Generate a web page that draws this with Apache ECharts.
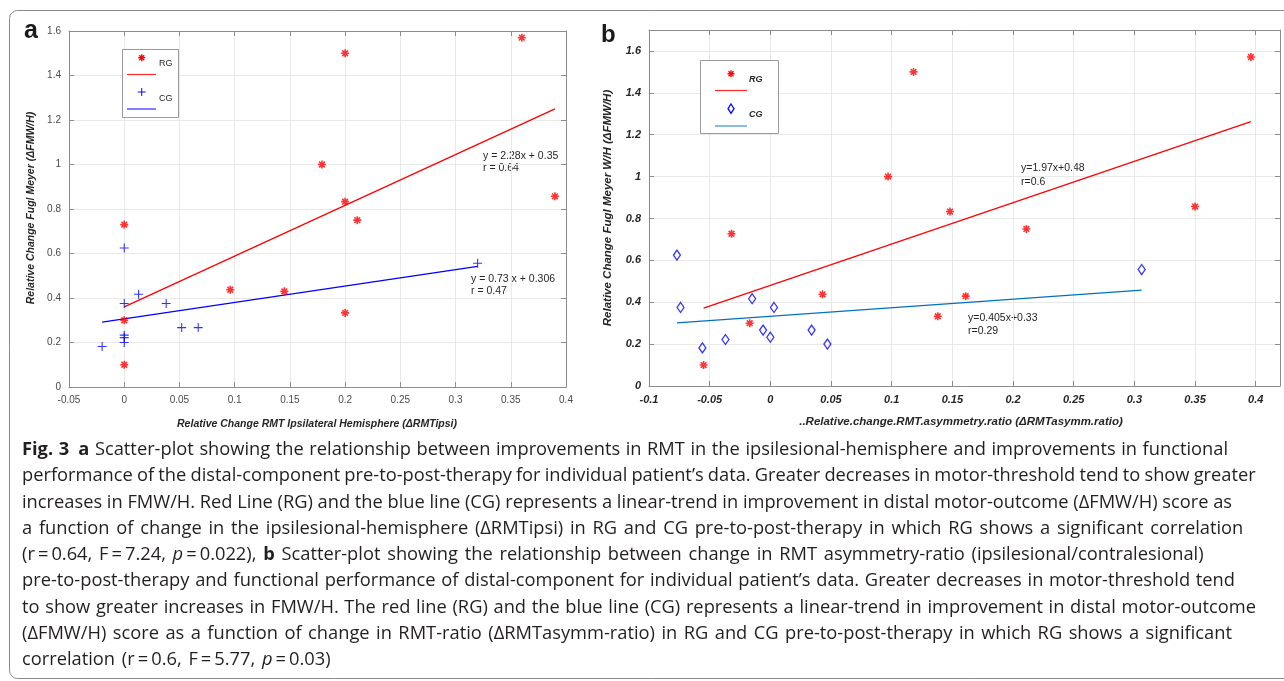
<!DOCTYPE html>
<html><head><meta charset="utf-8">
<script src="https://cdn.jsdelivr.net/npm/echarts@6/dist/echarts.min.js"></script>
<style>html,body{margin:0;padding:0;background:#fff}#c{width:1284px;height:681px}</style>
</head><body><div id="c"></div>
<script>
// ---------- Panel a data ----------
const rgA = [[0,0.73],[0,0.30],[0,0.10],[0.096,0.437],[0.145,0.43],[0.179,1.0],[0.2,1.5],[0.36,1.57],[0.39,0.857],[0.2,0.833],[0.211,0.75],[0.2,0.333]];
const cgA = [[0,0.625],[0,0.375],[0,0.233],[0,0.222],[0,0.2],[-0.02,0.182],[0.013,0.417],[0.038,0.375],[0.052,0.267],[0.067,0.267],[0.32,0.556]];
const fitRgA = [[0,0.36],[0.39,1.25]];
const fitCgA = [[-0.02,0.292],[0.32,0.542]];
const xAxisA = [-0.05, 0.4, 0.05];
const yAxisA = [0, 1.6, 0.2];
const eqA = ['y = 2.28x + 0.35','r = 0.64','y = 0.73 x + 0.306','r = 0.47'];

// ---------- Panel b data ----------
const rgB = [[0.118,1.5],[0.097,1.0],[0.396,1.571],[0.148,0.833],[0.35,0.857],[0.211,0.75],[0.161,0.429],[0.138,0.333],[-0.032,0.727],[0.043,0.438],[-0.017,0.30],[-0.055,0.10]];
const cgB = [[-0.077,0.625],[-0.074,0.375],[-0.056,0.182],[-0.037,0.222],[-0.015,0.417],[-0.006,0.267],[0,0.233],[0.003,0.375],[0.034,0.267],[0.047,0.2],[0.306,0.556]];
const fitRgB = [[-0.055,0.372],[0.396,1.262]];
const fitCgB = [[-0.077,0.301],[0.306,0.458]];
const xAxisB = [-0.1, 0.42, 0.05];
const yAxisB = [0, 1.7, 0.2];
const eqB = ['y=1.97x+0.48','r=0.6','y=0.405x+0.33','r=0.29'];

const legendLabels = ['RG','CG'];
const axisTitlesA = ['Relative Change RMT Ipsilateral Hemisphere (\u0394RMTipsi)','Relative Change Fugl Meyer (\u0394FMW/H)'];
const axisTitlesB = ['..Relative.change.RMT.asymmetry.ratio (\u0394RMTasymm.ratio)','Relative Change Fugl Meyer W/H (\u0394FMW/H)'];

const captionLines = [
 '{b|Fig.} {b|3}\u2002{b|a} Scatter-plot showing the relationship between improvements in RMT in the ipsilesional-hemisphere and improvements in functional',
 'performance of the distal-component pre-to-post-therapy for individual patient\u2019s data. Greater decreases in motor-threshold tend to show greater',
 'increases in FMW/H. Red Line (RG) and the blue line (CG) represents a linear-trend in improvement in distal motor-outcome (\u0394FMW/H) score as',
 'a function of change in the ipsilesional-hemisphere (\u0394RMTipsi) in RG and CG pre-to-post-therapy in which RG shows a significant correlation',
 '(r\u2009=\u20090.64, F\u2009=\u20097.24, {i|p}\u2009=\u20090.022), {b|b} Scatter-plot showing the relationship between change in RMT asymmetry-ratio (ipsilesional/contralesional)',
 'pre-to-post-therapy and functional performance of distal-component for individual patient\u2019s data. Greater decreases in motor-threshold tend',
 'to show greater increases in FMW/H. The red line (RG) and the blue line (CG) represents a linear-trend in improvement in distal motor-outcome',
 '(\u0394FMW/H) score as a function of change in RMT-ratio (\u0394RMTasymm-ratio) in RG and CG pre-to-post-therapy in which RG shows a significant',
 'correlation (r\u2009=\u20090.6, F\u2009=\u20095.77, {i|p}\u2009=\u20090.03)'
];
const captionRightEdges = [1228, 1253, 1232, 1247, 1222, 1235, 1256, 1232, 340];

// ---------- styling ----------
const STAR = 'path://M-1,-5L1,-5L1,5L-1,5Z M-5,-1L5,-1L5,1L-5,1Z M-2.83,-4.25L4.25,2.83L2.83,4.25L-4.25,-2.83Z M-4.25,2.83L2.83,-4.25L4.25,-2.83L-2.83,4.25Z';
const PLUS = 'path://M-0.6,-5L0.6,-5L0.6,5L-0.6,5Z M-5,-0.6L5,-0.6L5,0.6L-5,0.6Z';
const STAR_BARS = [[[-1,-5],[1,-5],[1,5],[-1,5]],[[-5,-1],[5,-1],[5,1],[-5,1]],[[-2.83,-4.25],[4.25,2.83],[2.83,4.25],[-4.25,-2.83]],[[-4.25,2.83],[2.83,-4.25],[4.25,-2.83],[-2.83,4.25]]];
const PLUS_BARS = [[[-0.6,-5],[0.6,-5],[0.6,5],[-0.6,5]],[[-5,-0.6],[5,-0.6],[5,0.6],[-5,0.6]]];
const AX = '#8c8c8c', GRIDC = '#e9e9e9';
const FONT = 'Liberation Sans';

function mainX(grid, r, labelStyle){
  return {type:'value', gridIndex:grid, min:r[0], max:r[1], interval:r[2], position:'bottom',
    axisLine:{show:true, onZero:false, lineStyle:{color:AX}},
    axisTick:{show:true, inside:true, length:5, lineStyle:{color:AX}},
    axisLabel:Object.assign({show:true, margin:8}, labelStyle),
    splitLine:{show:true, lineStyle:{color:GRIDC}}};
}
function mainY(grid, r, labelStyle){
  return {type:'value', gridIndex:grid, min:r[0], max:r[1], interval:r[2], position:'left',
    axisLine:{show:true, onZero:false, lineStyle:{color:AX}},
    axisTick:{show:true, inside:true, length:5, lineStyle:{color:AX}},
    axisLabel:Object.assign({show:true, margin:8}, labelStyle),
    splitLine:{show:true, lineStyle:{color:GRIDC}}};
}
function mirror(grid, r, pos){
  return {type:'value', gridIndex:grid, min:r[0], max:r[1], interval:r[2], position:pos,
    axisLine:{show:true, onZero:false, lineStyle:{color:AX}},
    axisTick:{show:true, inside:true, length:5, lineStyle:{color:AX}},
    axisLabel:{show:false}, splitLine:{show:false}};
}
const labA = {color:'#4a4a4a', fontSize:10, fontFamily:FONT};
const labB = {color:'#262626', fontSize:11, fontFamily:FONT, fontWeight:'bold', fontStyle:'italic', showMaxLabel:false};

const chart = echarts.init(document.getElementById('c'), null, {renderer:'canvas'});

// caption font size fitting
const ctx = document.createElement('canvas').getContext('2d');
const CAPFONT = 'Open Sans';
ctx.font = '16px "' + CAPFONT + '"';
const w2 = ctx.measureText(captionLines[1]).width;
const capSize = Math.round(16 * 1231 / w2 * 1.01 * 10) / 10;
function fontFor(tag){
  const pre = tag === 'b' ? 'bold ' : (tag === 'i' ? 'italic ' : '');
  return pre + capSize + 'px "' + CAPFONT + '"';
}
function wordWidth(word){
  const re = /\{(b|i)\|([^}]*)\}/g; let last = 0, m, w = 0;
  while ((m = re.exec(word))){
    if (m.index > last){ ctx.font = fontFor(''); w += ctx.measureText(word.slice(last, m.index)).width; }
    ctx.font = fontFor(m[1]); w += ctx.measureText(m[2]).width;
    last = re.lastIndex;
  }
  if (last < word.length){ ctx.font = fontFor(''); w += ctx.measureText(word.slice(last)).width; }
  return w;
}
ctx.font = fontFor('');
const spaceW = ctx.measureText(' ').width;

const graphics = [];
function glyph(bars, cx, cy, s, color){
  bars.forEach(function(b){
    graphics.push({type:'polygon', z:6, shape:{points:b.map(function(p){return [cx + p[0]*s, cy + p[1]*s];})}, style:{fill:color}});
  });
}
// outer frame
graphics.push({type:'rect', shape:{x:9.5, y:10.5, width:1300, height:668, r:8}, style:{fill:'none', stroke:'#8a8a8a', lineWidth:1}, z:0});
// panel letters
graphics.push({type:'text', x:24, y:44, style:{text:'a', font:'bold 25px "Liberation Sans"', fill:'#1a1a1a', textVerticalAlign:'bottom'}});
graphics.push({type:'text', x:601, y:47, style:{text:'b', font:'bold 24px "Liberation Sans"', fill:'#1a1a1a', textVerticalAlign:'bottom'}});
// axis titles
const tfA = 'italic bold 10.5px "Liberation Sans"';
graphics.push({type:'text', x:317, y:424, style:{text:axisTitlesA[0], font:tfA, fill:'#262626', textAlign:'center', textVerticalAlign:'middle'}});
graphics.push({type:'text', x:31, y:208, rotation:Math.PI/2, style:{text:axisTitlesA[1], font:tfA, fill:'#262626', textAlign:'center', textVerticalAlign:'middle'}});
const tfB = 'italic bold 11.5px "Liberation Sans"';
graphics.push({type:'text', x:961, y:422, style:{text:axisTitlesB[0], font:tfB, fill:'#262626', textAlign:'center', textVerticalAlign:'middle'}});
graphics.push({type:'text', x:608, y:208, rotation:Math.PI/2, style:{text:axisTitlesB[1], font:tfB, fill:'#262626', textAlign:'center', textVerticalAlign:'middle'}});
// equations
const ef = '10.5px "Liberation Sans"';
[[483,156,eqA[0]],[483,168,eqA[1]],[471,279,eqA[2]],[471,291,eqA[3]],
 [1021,168,eqB[0]],[1021,182,eqB[1]],[968,318,eqB[2]],[968,331,eqB[3]]].forEach(function(e){
  graphics.push({type:'text', x:e[0], y:e[1], style:{text:e[2], font:ef, fill:'#262626', textVerticalAlign:'middle'}});
});
// legend a
graphics.push({type:'rect', shape:{x:122.5, y:49.5, width:56, height:68}, style:{fill:'#fff', stroke:'#9a9a9a', lineWidth:1}, z:5});
glyph(STAR_BARS, 141.7, 57.7, 0.7, '#ff0000');
graphics.push({type:'line', shape:{x1:127, y1:74.5, x2:156, y2:74.5}, style:{stroke:'#ff2a2a', lineWidth:1.2}, z:6});
glyph(PLUS_BARS, 141.7, 92, 0.8, '#0000ff');
graphics.push({type:'line', shape:{x1:127, y1:109, x2:156, y2:109}, style:{stroke:'#2a2aff', lineWidth:1.2}, z:6});
graphics.push({type:'text', x:159, y:64, style:{text:legendLabels[0], font:'9px "Liberation Sans"', fill:'#262626', textVerticalAlign:'middle'}, z:6});
graphics.push({type:'text', x:159, y:98.5, style:{text:legendLabels[1], font:'9px "Liberation Sans"', fill:'#262626', textVerticalAlign:'middle'}, z:6});
// legend b
graphics.push({type:'rect', shape:{x:700.5, y:60.5, width:78, height:73}, style:{fill:'#fff', stroke:'#9a9a9a', lineWidth:1}, z:5});
glyph(STAR_BARS, 731, 73.7, 0.7, '#ff0000');
graphics.push({type:'line', shape:{x1:715, y1:90.5, x2:747, y2:90.5}, style:{stroke:'#ff2a2a', lineWidth:1.2}, z:6});
graphics.push({type:'polygon', shape:{points:[[731,104],[734,108.7],[731,113.4],[728,108.7]]}, style:{fill:'none', stroke:'#0000ff', lineWidth:1.3}, z:6});
graphics.push({type:'line', shape:{x1:715, y1:126, x2:747, y2:126}, style:{stroke:'#3c8fd0', lineWidth:1.2}, z:6});
graphics.push({type:'text', x:749, y:79.5, style:{text:legendLabels[0], font:'italic bold 9px "Liberation Sans"', fill:'#262626', textVerticalAlign:'middle'}, z:6});
graphics.push({type:'text', x:749, y:114.5, style:{text:legendLabels[1], font:'italic bold 9px "Liberation Sans"', fill:'#262626', textVerticalAlign:'middle'}, z:6});
// caption: natural word spacing, nudged (within limits) toward the reference line ends
const richStyles = {b:{fontWeight:'bold', fontFamily:CAPFONT, fontSize:capSize, fill:'#231f20'},
                    i:{fontStyle:'italic', fontFamily:CAPFONT, fontSize:capSize, fill:'#231f20'}};
captionLines.forEach(function(line, i){
  const words = line.split(' ');
  const widths = words.map(wordWidth);
  const total = widths.reduce(function(a,b){return a+b;}, 0);
  const n = words.length - 1;
  const naturalEnd = 22 + total + n * spaceW;
  let extra = n > 0 ? (captionRightEdges[i] - naturalEnd) / n : 0;
  extra = Math.max(-0.6, Math.min(2.0, extra));
  const gap = spaceW + extra;
  let x = 22;
  words.forEach(function(w, k){
    graphics.push({type:'text', x:x, y:450 + i*26.25, style:{text:w, fontFamily:CAPFONT, fontSize:capSize, fill:'#231f20', textVerticalAlign:'middle', rich:richStyles}});
    x += widths[k] + gap;
  });
});

function scat(data, xi, yi, symbol, size, color, hollow){
  return {type:'scatter', xAxisIndex:xi, yAxisIndex:yi, data:data, symbol:symbol, symbolSize:size, z:4,
    itemStyle: hollow ? {color:'rgba(255,255,255,0)', borderColor:color, borderWidth:1.3} : {color:color},
    emphasis:{disabled:true}};
}
function fit(data, xi, yi, color){
  return {type:'line', xAxisIndex:xi, yAxisIndex:yi, data:data, showSymbol:false, symbol:'none', z:3,
    lineStyle:{color:color, width:1.3}, emphasis:{disabled:true}};
}

chart.setOption({
  animation:false,
  grid:[{left:69, top:31, width:497, height:356, show:false},
        {left:649, top:30, width:631, height:356, show:false}],
  xAxis:[mainX(0, xAxisA, labA), mirror(0,xAxisA,'top'), mainX(1, xAxisB, labB), mirror(1,xAxisB,'top')],
  yAxis:[mainY(0, yAxisA, labA), mirror(0,yAxisA,'right'), mainY(1, yAxisB, labB), mirror(1,yAxisB,'right')],
  series:[
    fit(fitRgA,0,0,'#ff0000'), fit(fitCgA,0,0,'#0000ff'),
    scat(rgA,0,0,STAR,8,'#ff0000',false), scat(cgA,0,0,PLUS,9,'#0000ff',false),
    fit(fitRgB,2,2,'#ff0000'), fit(fitCgB,2,2,'#0072bd'),
    scat(rgB,2,2,STAR,8,'#ff0000',false), scat(cgB,2,2,'diamond',[7,10],'#0000ff',true)
  ],
  graphic:graphics
});
</script></body></html>
